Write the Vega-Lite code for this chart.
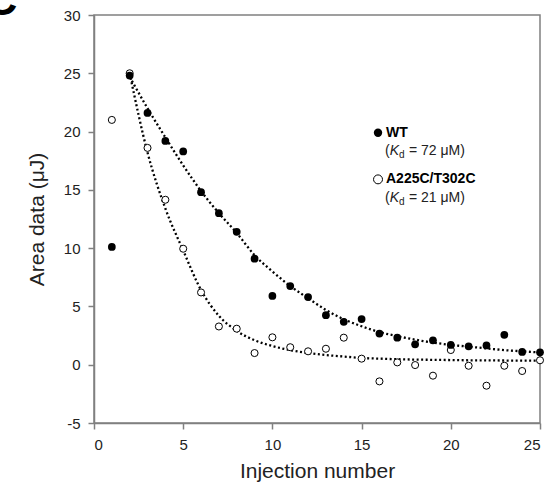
{
  "$schema": "https://vega.github.io/schema/vega-lite/v6.json",
  "width": 446,
  "height": 408,
  "autosize": {"type": "none"},
  "padding": {"left": 94, "top": 15, "right": 6, "bottom": 64},
  "background": "white",
  "config": {
    "view": {"stroke": "#808080", "strokeWidth": 1.5},
    "font": "Liberation Sans",
    "axis": {
      "grid": false,
      "domainColor": "#808080",
      "domainWidth": 1.5,
      "tickColor": "#808080",
      "tickWidth": 1.5,
      "tickSize": 6,
      "labelFont": "Liberation Sans",
      "labelFontSize": 15,
      "labelColor": "#222222",
      "labelPadding": 8,
      "titleFont": "Liberation Sans",
      "titleFontSize": 21,
      "titleFontWeight": "normal",
      "titleColor": "#222222"
    }
  },
  "datasets": {
    "points": [
      {"n": 1, "y": 10.1, "s": "WT"}, {"n": 2, "y": 24.8, "s": "WT"}, {"n": 3, "y": 21.6, "s": "WT"},
      {"n": 4, "y": 19.2, "s": "WT"}, {"n": 5, "y": 18.3, "s": "WT"}, {"n": 6, "y": 14.8, "s": "WT"},
      {"n": 7, "y": 13.0, "s": "WT"}, {"n": 8, "y": 11.4, "s": "WT"}, {"n": 9, "y": 9.1, "s": "WT"},
      {"n": 10, "y": 5.9, "s": "WT"}, {"n": 11, "y": 6.75, "s": "WT"}, {"n": 12, "y": 5.8, "s": "WT"},
      {"n": 13, "y": 4.25, "s": "WT"}, {"n": 14, "y": 3.68, "s": "WT"}, {"n": 15, "y": 3.92, "s": "WT"},
      {"n": 16, "y": 2.67, "s": "WT"}, {"n": 17, "y": 2.32, "s": "WT"}, {"n": 18, "y": 1.75, "s": "WT"},
      {"n": 19, "y": 2.09, "s": "WT"}, {"n": 20, "y": 1.7, "s": "WT"}, {"n": 21, "y": 1.58, "s": "WT"},
      {"n": 22, "y": 1.65, "s": "WT"}, {"n": 23, "y": 2.57, "s": "WT"}, {"n": 24, "y": 1.1, "s": "WT"},
      {"n": 25, "y": 1.06, "s": "WT"},
      {"n": 1, "y": 21.0, "s": "MUT"}, {"n": 2, "y": 25.0, "s": "MUT"}, {"n": 3, "y": 18.6, "s": "MUT"},
      {"n": 4, "y": 14.15, "s": "MUT"}, {"n": 5, "y": 9.95, "s": "MUT"}, {"n": 6, "y": 6.2, "s": "MUT"},
      {"n": 7, "y": 3.28, "s": "MUT"}, {"n": 8, "y": 3.09, "s": "MUT"}, {"n": 9, "y": 1.0, "s": "MUT"},
      {"n": 10, "y": 2.35, "s": "MUT"}, {"n": 11, "y": 1.5, "s": "MUT"}, {"n": 12, "y": 1.15, "s": "MUT"},
      {"n": 13, "y": 1.37, "s": "MUT"}, {"n": 14, "y": 2.32, "s": "MUT"}, {"n": 15, "y": 0.52, "s": "MUT"},
      {"n": 16, "y": -1.43, "s": "MUT"}, {"n": 17, "y": 0.2, "s": "MUT"}, {"n": 18, "y": -0.03, "s": "MUT"},
      {"n": 19, "y": -0.94, "s": "MUT"}, {"n": 20, "y": 1.26, "s": "MUT"}, {"n": 21, "y": -0.09, "s": "MUT"},
      {"n": 22, "y": -1.8, "s": "MUT"}, {"n": 23, "y": -0.09, "s": "MUT"}, {"n": 24, "y": -0.54, "s": "MUT"},
      {"n": 25, "y": 0.38, "s": "MUT"}
    ],
    "fit": [
      {"n": 2, "y": 24.7, "s": "WT"}, {"n": 3, "y": 22.0, "s": "WT"}, {"n": 4, "y": 19.5, "s": "WT"},
      {"n": 5, "y": 17.1, "s": "WT"}, {"n": 6, "y": 14.9, "s": "WT"}, {"n": 7, "y": 13.0, "s": "WT"},
      {"n": 8, "y": 11.3, "s": "WT"}, {"n": 9, "y": 9.4, "s": "WT"}, {"n": 10, "y": 8.0, "s": "WT"},
      {"n": 11, "y": 6.75, "s": "WT"}, {"n": 12, "y": 5.7, "s": "WT"}, {"n": 13, "y": 4.7, "s": "WT"},
      {"n": 14, "y": 3.9, "s": "WT"}, {"n": 15, "y": 3.3, "s": "WT"}, {"n": 16, "y": 2.8, "s": "WT"},
      {"n": 17, "y": 2.45, "s": "WT"}, {"n": 18, "y": 2.15, "s": "WT"}, {"n": 19, "y": 1.9, "s": "WT"},
      {"n": 20, "y": 1.7, "s": "WT"}, {"n": 21, "y": 1.55, "s": "WT"}, {"n": 22, "y": 1.4, "s": "WT"},
      {"n": 23, "y": 1.25, "s": "WT"}, {"n": 24, "y": 1.15, "s": "WT"}, {"n": 25, "y": 1.05, "s": "WT"},
      {"n": 2, "y": 25.0, "s": "MUT"}, {"n": 3, "y": 18.2, "s": "MUT"}, {"n": 4, "y": 13.4, "s": "MUT"},
      {"n": 5, "y": 9.8, "s": "MUT"}, {"n": 6, "y": 6.4, "s": "MUT"}, {"n": 7, "y": 4.2, "s": "MUT"},
      {"n": 8, "y": 2.9, "s": "MUT"}, {"n": 9, "y": 2.1, "s": "MUT"}, {"n": 10, "y": 1.6, "s": "MUT"},
      {"n": 11, "y": 1.25, "s": "MUT"}, {"n": 12, "y": 1.0, "s": "MUT"}, {"n": 13, "y": 0.83, "s": "MUT"},
      {"n": 14, "y": 0.7, "s": "MUT"}, {"n": 15, "y": 0.58, "s": "MUT"}, {"n": 16, "y": 0.52, "s": "MUT"},
      {"n": 17, "y": 0.47, "s": "MUT"}, {"n": 18, "y": 0.44, "s": "MUT"}, {"n": 19, "y": 0.42, "s": "MUT"},
      {"n": 20, "y": 0.4, "s": "MUT"}, {"n": 21, "y": 0.38, "s": "MUT"}, {"n": 22, "y": 0.37, "s": "MUT"},
      {"n": 23, "y": 0.36, "s": "MUT"}, {"n": 24, "y": 0.35, "s": "MUT"}, {"n": 25, "y": 0.34, "s": "MUT"}
    ],
    "legend": [
      {"n": 15.92, "y": 19.9, "s": "WT", "label": "WT", "k": "(", "kd": "K", "sub": "d", "rest": "= 72 μM)", "ky": 18.36},
      {"n": 15.92, "y": 15.9, "s": "MUT", "label": "A225C/T302C", "k": "(", "kd": "K", "sub": "d", "rest": "= 21 μM)", "ky": 14.34}
    ],
    "panel": [{"n": -4.3, "y": 30, "label": "C"}]
  },
  "encoding": {
    "x": {
      "field": "n", "type": "quantitative",
      "scale": {"domain": [0, 25], "nice": false, "zero": false},
      "axis": {"values": [0, 5, 10, 15, 20, 25], "title": "Injection number", "titlePadding": 8}
    },
    "y": {
      "field": "y", "type": "quantitative",
      "scale": {"domain": [-5, 30], "nice": false, "zero": false},
      "axis": {"values": [-5, 0, 5, 10, 15, 20, 25, 30], "title": "Area data (μJ)", "titlePadding": 16, "labelExpr": "'' + datum.value"}
    }
  },
  "layer": [
    {
      "data": {"name": "fit"},
      "mark": {"type": "line", "interpolate": "monotone", "color": "black", "strokeWidth": 2.3, "strokeDash": [2, 2.5]},
      "encoding": {"detail": {"field": "s"}}
    },
    {
      "data": {"name": "points"},
      "transform": [{"filter": "datum.s === 'MUT'"}],
      "mark": {"type": "point", "shape": "circle", "size": 50, "filled": false, "stroke": "black", "strokeWidth": 1, "fill": "white", "fillOpacity": 1, "opacity": 1}
    },
    {
      "data": {"name": "points"},
      "transform": [{"filter": "datum.s === 'WT'"}],
      "mark": {"type": "point", "shape": "circle", "size": 60, "filled": true, "color": "black", "opacity": 1}
    },
    {
      "data": {"name": "legend"},
      "transform": [{"filter": "datum.s === 'WT'"}],
      "mark": {"type": "point", "shape": "circle", "size": 70, "filled": true, "color": "black", "opacity": 1}
    },
    {
      "data": {"name": "legend"},
      "transform": [{"filter": "datum.s === 'MUT'"}],
      "mark": {"type": "point", "shape": "circle", "size": 80, "filled": false, "stroke": "black", "strokeWidth": 1, "opacity": 1}
    },
    {
      "data": {"name": "legend"},
      "mark": {"type": "text", "align": "left", "baseline": "middle", "dx": 8, "fontSize": 14, "fontWeight": "bold", "font": "Liberation Sans", "color": "black"},
      "encoding": {"text": {"field": "label"}}
    },
    {
      "data": {"name": "legend"},
      "mark": {"type": "text", "align": "left", "baseline": "middle", "dx": 7, "fontSize": 14, "font": "Liberation Sans", "color": "#222222"},
      "encoding": {"y": {"field": "ky", "type": "quantitative"}, "text": {"field": "k"}}
    },
    {
      "data": {"name": "legend"},
      "mark": {"type": "text", "align": "left", "baseline": "middle", "dx": 11.7, "fontSize": 14, "fontStyle": "italic", "font": "Liberation Sans", "color": "#222222"},
      "encoding": {"y": {"field": "ky", "type": "quantitative"}, "text": {"field": "kd"}}
    },
    {
      "data": {"name": "legend"},
      "mark": {"type": "text", "align": "left", "baseline": "middle", "dx": 21, "dy": 4, "fontSize": 10, "font": "Liberation Sans", "color": "#222222"},
      "encoding": {"y": {"field": "ky", "type": "quantitative"}, "text": {"field": "sub"}}
    },
    {
      "data": {"name": "legend"},
      "mark": {"type": "text", "align": "left", "baseline": "middle", "dx": 31, "fontSize": 14, "font": "Liberation Sans", "color": "#222222"},
      "encoding": {"y": {"field": "ky", "type": "quantitative"}, "text": {"field": "rest"}}
    },
    {
      "data": {"name": "panel"},
      "mark": {"type": "text", "align": "right", "baseline": "alphabetic", "fontSize": 44, "fontWeight": "bold", "font": "Liberation Sans", "color": "black"},
      "encoding": {"text": {"field": "label"}}
    }
  ]
}
